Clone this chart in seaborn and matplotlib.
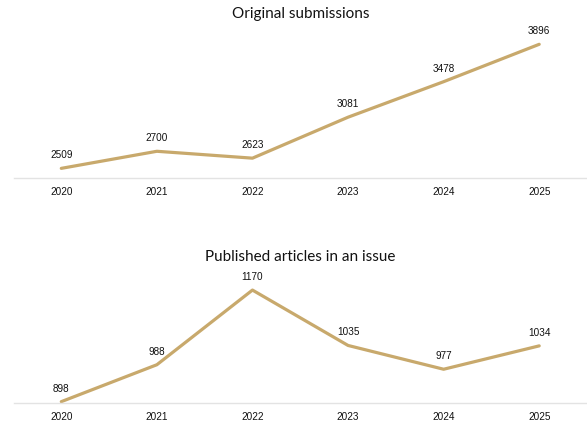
import numpy as np
import pandas as pd
import seaborn as sns
import matplotlib.pyplot as plt

# DATA
YEARS = ['2020', '2021', '2022', '2023', '2024', '2025']
SUBMISSIONS = [2509, 2700, 2623, 3081, 3478, 3896]
PUBLISHED = [898, 988, 1170, 1035, 977, 1034]

GOLD = '#C8A96C'
GRID = '#E3E3E3'

sns.set_theme(style='white')
plt.rcParams['font.family'] = ['Liberation Sans', 'DejaVu Sans']


def draw(ax, values, title, ylim):
    df = pd.DataFrame({'year': YEARS, 'value': values})
    sns.lineplot(data=df, x='year', y='value', ax=ax, color=GOLD, linewidth=2.3, sort=False)
    for i, v in enumerate(values):
        ax.annotate(str(v), (i, v), xytext=(0, 6.5), textcoords='offset points',
                    ha='center', va='bottom', fontsize=7.2, color='#111111')
    ax.set_xlim(-0.5, len(YEARS) - 0.5)
    ax.set_ylim(*ylim)
    ax.set_title(title, fontsize=11, pad=13, color='#111111', family=['Lato', 'DejaVu Sans'])
    ax.set_xlabel('')
    ax.set_ylabel('')
    ax.set_yticks([])
    for side in ['top', 'left', 'right']:
        ax.spines[side].set_visible(False)
    ax.spines['bottom'].set_color(GRID)
    ax.spines['bottom'].set_linewidth(1)
    ax.tick_params(axis='x', length=0, labelsize=7.2, pad=5.5, colors='#111111')


fig = plt.figure(figsize=(5.87, 4.39), dpi=100)
ax1 = fig.add_axes([0.023, 0.592, 0.977, 0.326])
ax2 = fig.add_axes([0.023, 0.080, 0.977, 0.285])

draw(ax1, SUBMISSIONS, 'Original submissions', (2400, 4000))
draw(ax2, PUBLISHED, 'Published articles in an issue', (895, 1200))

fig.savefig('out.png', dpi=100, facecolor='white')
